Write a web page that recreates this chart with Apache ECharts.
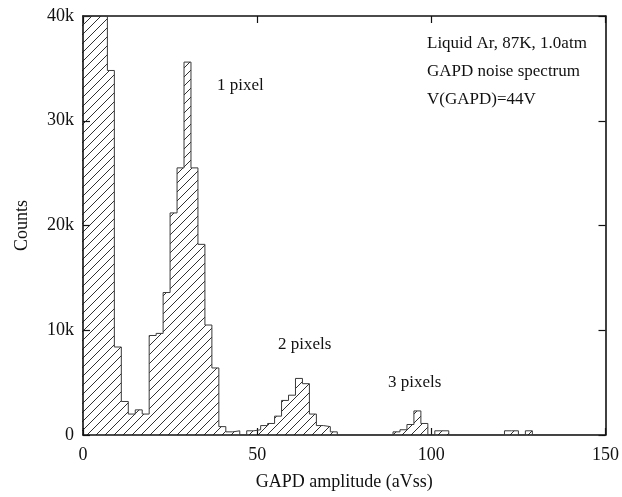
<!DOCTYPE html>
<html>
<head>
<meta charset="utf-8">
<script src="https://cdn.jsdelivr.net/npm/echarts@6/dist/echarts.min.js"></script>
<style>
html,body{margin:0;padding:0;background:#fff;}
#chart{width:622px;height:497px;}
</style>
</head>
<body>
<div id="chart"></div>
<script>
// Histogram bin centers (bin width 2, aVss)
const binCenters = [0,2,4,6,8,10,12,14,16,18,20,22,24,26,28,30,32,34,36,38,40,42,44,46,48,50,52,54,56,58,60,62,64,66,68,70,72,74,76,78,80,82,84,86,88,90,92,94,96,98,100,102,104,106,108,110,112,114,116,118,120,122,124,126,128,130,132,134,136,138,140,142,144,146,148];
const counts = [40000,40000,40000,40000,34800,8400,3200,2000,2400,2000,9500,9700,13600,21200,25500,35600,25500,18200,10500,6400,800,300,400,0,400,500,900,1100,1800,3300,3800,5400,4900,2000,900,800,300,0,0,0,0,0,0,0,0,300,500,1000,2300,1100,0,400,400,0,0,0,0,0,0,0,0,400,400,0,400,0,0,0,0,0,0,0,0,0,0];
const binWidth = 2;
const xTicks = [0,50,100,150];
const yTickLabels = ['0','10k','20k','30k','40k'];
const annotations = ['Liquid Ar, 87K, 1.0atm','GAPD noise spectrum','V(GAPD)=44V'];
const peakLabels = ['1 pixel','2 pixels','3 pixels'];

// step outline points built from the bins
const outline = [];
binCenters.forEach((c,i)=>{
  outline.push([c-binWidth/2, counts[i]]);
  outline.push([c+binWidth/2, counts[i]]);
});

// hatch pattern
const S = 9;
const pc = document.createElement('canvas');
pc.width = S; pc.height = S;
const g = pc.getContext('2d');
g.strokeStyle = '#1a1a1a';
g.lineWidth = 0.9;
g.beginPath();
g.moveTo(0,S); g.lineTo(S,0);
g.moveTo(-2,2); g.lineTo(2,-2);
g.moveTo(S-2,S+2); g.lineTo(S+2,S-2);
g.stroke();

const serif = '"Liberation Serif", "DejaVu Serif", serif';
const chart = echarts.init(document.getElementById('chart'), null, {renderer:'canvas'});
const axisLine = {show:true, onZero:false, lineStyle:{color:'#111', width:1.6}};
const tick = {show:true, inside:true, length:7, lineStyle:{color:'#111', width:1.2}};
chart.setOption({
  animation:false,
  backgroundColor:'#fff',
  grid:{left:83, right:16, top:16, bottom:62, show:false},
  xAxis:[{
    type:'value', min:0, max:150, interval:50, position:'bottom',
    axisLine:axisLine, axisTick:tick,
    axisLabel:{show:true, color:'#111', fontFamily:serif, fontSize:18, margin:11,
      formatter:v=>xTicks.includes(v)?String(v):''},
    splitLine:{show:false},
    name:'GAPD amplitude (aVss)', nameLocation:'middle', nameGap:38,
    nameTextStyle:{color:'#111', fontFamily:serif, fontSize:18}
  },{
    type:'value', min:0, max:150, interval:50, position:'top',
    axisLine:axisLine, axisTick:tick,
    axisLabel:{show:false}, splitLine:{show:false}
  }],
  yAxis:[{
    type:'value', min:0, max:40000, interval:10000, position:'left',
    axisLine:axisLine, axisTick:tick,
    axisLabel:{show:true, color:'#111', fontFamily:serif, fontSize:18, margin:9,
      formatter:v=>yTickLabels[Math.round(v/10000)]},
    splitLine:{show:false},
    name:'Counts', nameLocation:'middle', nameGap:52, nameRotate:90,
    nameTextStyle:{color:'#111', fontFamily:serif, fontSize:18}
  },{
    type:'value', min:0, max:40000, interval:10000, position:'right',
    axisLine:axisLine, axisTick:tick,
    axisLabel:{show:false}, splitLine:{show:false}
  }],
  series:[{
    type:'line',
    xAxisIndex:0, yAxisIndex:0,
    data:outline,
    showSymbol:false, symbol:'none',
    clip:true,
    lineStyle:{color:'#3a3a3a', width:1},
    areaStyle:{color:{image:pc, repeat:'repeat'}, opacity:1, origin:'start'},
    z:1
  }],
  graphic:[
    {type:'text', left:427, top:35, style:{text:annotations[0], font:'17px '+serif, fill:'#111'}},
    {type:'text', left:427, top:63, style:{text:annotations[1], font:'17px '+serif, fill:'#111'}},
    {type:'text', left:427, top:91, style:{text:annotations[2], font:'17px '+serif, fill:'#111'}},
    {type:'text', left:217, top:77, style:{text:peakLabels[0], font:'17px '+serif, fill:'#111'}},
    {type:'text', left:278, top:336, style:{text:peakLabels[1], font:'17px '+serif, fill:'#111'}},
    {type:'text', left:388, top:374, style:{text:peakLabels[2], font:'17px '+serif, fill:'#111'}}
  ]
});
</script>
</body>
</html>
